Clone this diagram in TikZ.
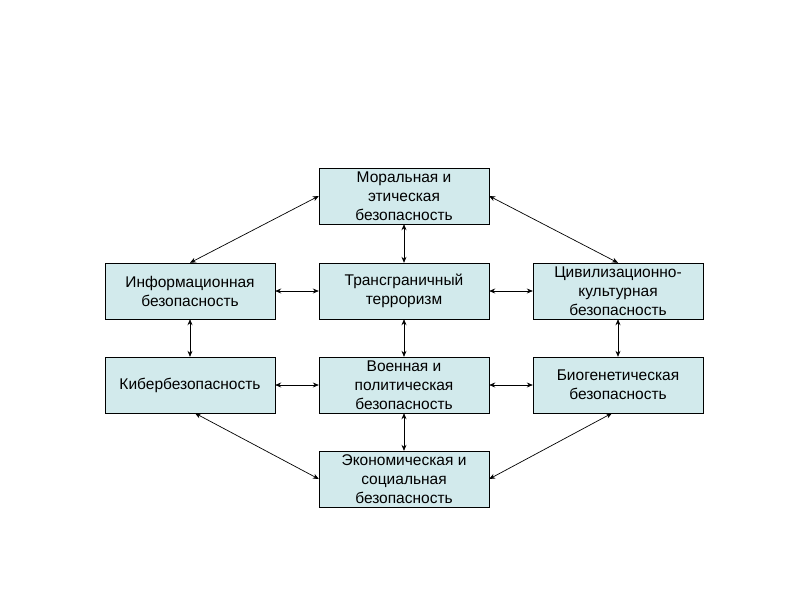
\documentclass[tikz,border=0pt]{standalone}
\usepackage{fontspec}
\setmainfont{Liberation Sans}
\usetikzlibrary{arrows.meta}
\begin{document}
\begin{tikzpicture}[x=1pt,y=-1pt,
  box/.style={draw=black,fill={rgb,255:red,210;green,234;blue,236},minimum width=170pt,minimum height=56pt,align=center,font=\fontsize{15.5}{19}\selectfont,inner sep=1pt},
  link/.style={{Stealth[length=6pt,width=5pt]}-{Stealth[length=6pt,width=5pt]},line width=0.7pt}]
\useasboundingbox (0,0) rectangle (800,600);
\node[box] (top) at (404,196) {Моральная и\\этическая\\безопасность};
\node[box] (inf) at (190,291) {Информационная\\безопасность};
\node[box] (ter) at (404,291) {Трансграничный\\терроризм};
\node[box] (civ) at (618,291) {Цивилизационно-\\культурная\\безопасность};
\node[box] (cyb) at (190,385) {Кибербезопасность};
\node[box] (mil) at (404,385) {Военная и\\политическая\\безопасность};
\node[box] (bio) at (618,385) {Биогенетическая\\безопасность};
\node[box] (eco) at (404,479) {Экономическая и\\социальная\\безопасность};
\draw[link] (top) -- (ter);
\draw[link] (ter) -- (mil);
\draw[link] (mil) -- (eco);
\draw[link] (inf) -- (ter);
\draw[link] (ter) -- (civ);
\draw[link] (cyb) -- (mil);
\draw[link] (mil) -- (bio);
\draw[link] (inf) -- (cyb);
\draw[link] (civ) -- (bio);
\draw[link] (inf.north) -- (top.west);
\draw[link] (top.east) -- (civ.north);
\draw[link] ([xshift=5pt]cyb.south) -- (eco.west);
\draw[link] (eco.east) -- ([xshift=-6pt]bio.south);
\end{tikzpicture}
\end{document}
